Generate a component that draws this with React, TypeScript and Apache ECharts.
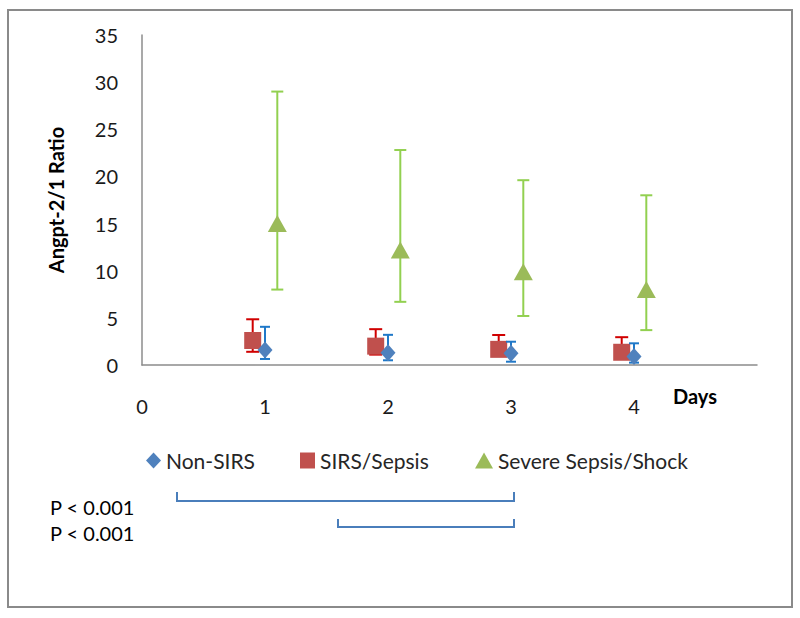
import React, { useEffect, useRef } from "react";
import * as echarts from "echarts";

// ---- Data ----
const days = [1, 2, 3, 4];
const xTickLabels = ["0", "1", "2", "3", "4"];

const nonSirsMean = [1.6, 1.3, 1.24, 0.9];
const nonSirsLow = [0.64, 0.5, 0.35, 0.25];
const nonSirsHigh = [4.05, 3.2, 2.47, 2.3];

const sirsMean = [2.6, 2.0, 1.66, 1.35];
const sirsLow = [1.4, 1.1, 1.0, 0.8];
const sirsHigh = [4.85, 3.8, 3.18, 2.95];

const severeMean = [15.0, 12.2, 9.9, 8.0];
const severeLow = [8.0, 6.7, 5.2, 3.7];
const severeHigh = [29.0, 22.8, 19.6, 18.0];

const seriesNames = ["Non-SIRS", "SIRS/Sepsis", "Severe Sepsis/Shock"];
const pLabels = ["P < 0.001", "P < 0.001"];

// horizontal jitter of each group around the day (display style)
const jitter = [0.0, -0.1, 0.1];

const FONT = "Lato, 'Open Sans', sans-serif";

function errSeries(name: string, mean: number[], lo: number[], hi: number[], off: number, color: string, capHalf: number, z: number) {
  return {
    type: "custom",
    name: name + " error",
    z,
    data: days.map((d, i) => [d + off, lo[i], hi[i], mean[i]]),
    encode: { x: 0, y: [1, 2] },
    renderItem: (params: any, api: any) => {
      const x = api.value(0);
      const pLo = api.coord([x, api.value(1)]);
      const pHi = api.coord([x, api.value(2)]);
      const st = { stroke: color, lineWidth: 2 };
      return {
        type: "group",
        children: [
          { type: "line", shape: { x1: pLo[0], y1: pLo[1], x2: pHi[0], y2: pHi[1] }, style: st },
          { type: "line", shape: { x1: pLo[0] - capHalf, y1: pLo[1], x2: pLo[0] + capHalf, y2: pLo[1] }, style: st },
          { type: "line", shape: { x1: pHi[0] - capHalf, y1: pHi[1], x2: pHi[0] + capHalf, y2: pHi[1] }, style: st },
        ],
      };
    },
    silent: true,
  };
}

function markSeries(name: string, mean: number[], off: number, color: string, symbol: string, size: number[], z: number) {
  return {
    type: "scatter",
    name,
    z,
    symbol,
    symbolSize: size,
    itemStyle: { color, opacity: 1 },
    data: days.map((d, i) => [d + off, mean[i]]),
  };
}

export default function App() {
  const ref = useRef<HTMLDivElement>(null);
  useEffect(() => {
    if (!ref.current) return;
    const chart = echarts.init(ref.current, undefined, { renderer: "svg" });
    const legendBase = {
      selectedMode: false,
      orient: "horizontal",
      itemGap: 0,
      textStyle: { fontFamily: FONT, fontSize: 21, color: "#262626", padding: [0, 0, 0, 0] },
      padding: 0,
    };
    chart.setOption({
      animation: false,
      backgroundColor: "#ffffff",
      grid: { left: 142, top: 35, right: 43, bottom: 253, containLabel: false },
      xAxis: {
        type: "value",
        min: 0,
        max: 5,
        interval: 1,
        axisLine: { show: true, lineStyle: { color: "#8c8c8c", width: 1.5 } },
        axisTick: { show: false },
        splitLine: { show: false },
        axisLabel: {
          margin: 31,
          fontFamily: FONT,
          fontSize: 20,
          color: "#1a1a1a",
          formatter: (v: number) => (xTickLabels[v] !== undefined ? xTickLabels[v] : ""),
        },
      },
      yAxis: {
        type: "value",
        min: 0,
        max: 35,
        interval: 5,
        name: "Angpt-2/1 Ratio",
        nameLocation: "middle",
        nameRotate: 90,
        nameGap: 76,
        nameTextStyle: { fontFamily: FONT, fontSize: 20, fontWeight: "bold", color: "#000" },
        axisLine: { show: true, lineStyle: { color: "#8c8c8c", width: 1.5 } },
        axisTick: { show: false },
        splitLine: { show: false },
        axisLabel: { margin: 24, fontFamily: FONT, fontSize: 20, color: "#1a1a1a" },
      },
      legend: [
        { ...legendBase, left: 146, top: 450, itemWidth: 15, itemHeight: 16, data: [seriesNames[0]] },
        { ...legendBase, left: 300, top: 450, itemWidth: 15, itemHeight: 16, data: [seriesNames[1]] },
        { ...legendBase, left: 475, top: 450, itemWidth: 18, itemHeight: 16, data: [seriesNames[2]] },
      ],
      graphic: [
        {
          type: "rect",
          shape: { x: 8, y: 10, width: 784, height: 597 },
          style: { fill: "none", stroke: "#8a8a8a", lineWidth: 2 },
          silent: true,
        },
        {
          type: "text",
          x: 673,
          y: 396,
          style: { text: "Days", fontFamily: FONT, fontSize: 20, fontWeight: "bold", fill: "#000", verticalAlign: "middle", align: "left" },
        },
        {
          type: "text",
          x: 50,
          y: 507,
          style: { text: pLabels[0], fontFamily: FONT, fontSize: 20, fill: "#000", verticalAlign: "middle", align: "left" },
        },
        {
          type: "text",
          x: 50,
          y: 533,
          style: { text: pLabels[1], fontFamily: FONT, fontSize: 20, fill: "#000", verticalAlign: "middle", align: "left" },
        },
        {
          type: "polyline",
          shape: { points: [[177, 492], [177, 501], [514, 501], [514, 492]] },
          style: { stroke: "#4a7ebb", lineWidth: 2, fill: "none" },
        },
        {
          type: "polyline",
          shape: { points: [[338, 519], [338, 527], [514, 527], [514, 519]] },
          style: { stroke: "#4a7ebb", lineWidth: 2, fill: "none" },
        },
      ],
      series: [
        errSeries(seriesNames[1], sirsMean, sirsLow, sirsHigh, jitter[1], "#d00000", 6.5, 2),
        markSeries(seriesNames[1], sirsMean, jitter[1], "#c0504d", "rect", [17, 17], 3),
        errSeries(seriesNames[0], nonSirsMean, nonSirsLow, nonSirsHigh, jitter[0], "#1f78c8", 5, 4),
        markSeries(seriesNames[0], nonSirsMean, jitter[0], "#4f81bd", "diamond", [15, 17], 5),
        errSeries(seriesNames[2], severeMean, severeLow, severeHigh, jitter[2], "#92d050", 6, 6),
        markSeries(seriesNames[2], severeMean, jitter[2], "#9bbb59", "triangle", [19, 17], 7),
      ],
    });
    return () => chart.dispose();
  }, []);
  return <div ref={ref} style={{ position: "absolute", left: 0, top: 0, width: 800, height: 618 }} />;
}
